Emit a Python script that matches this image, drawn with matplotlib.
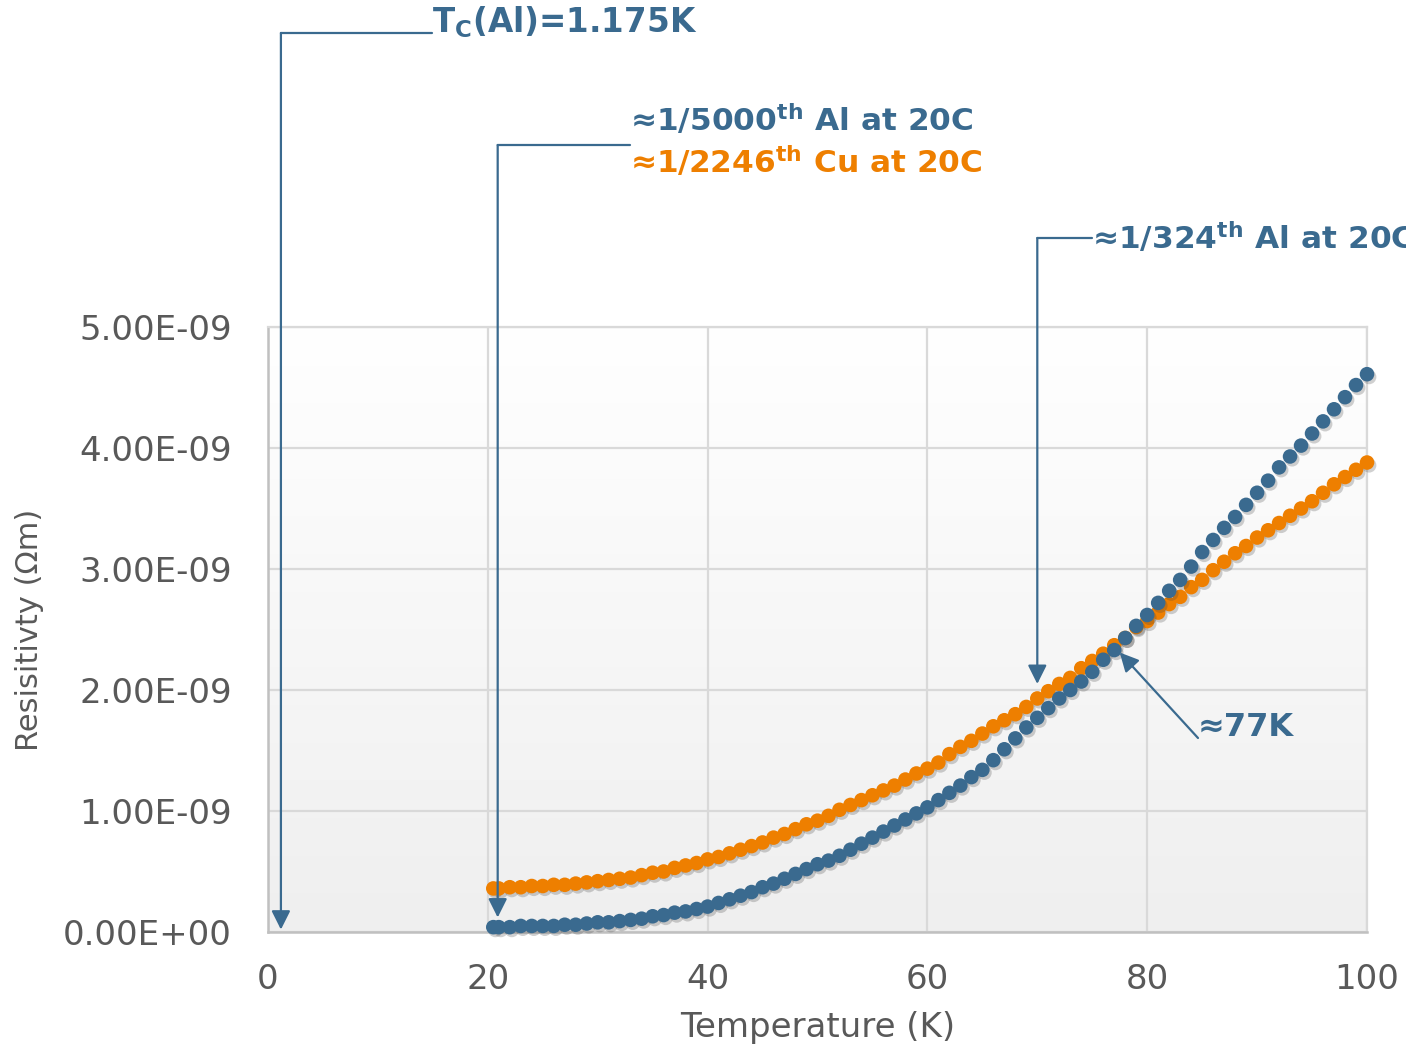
import numpy as np
import matplotlib
matplotlib.use("Agg")
import matplotlib.pyplot as plt
import matplotlib.patheffects as pe
from matplotlib.ticker import FuncFormatter

# Temperature (K) and resistivity (x1e-9 Ohm m)
temp = [20.5] + list(range(21, 101))
rho_al = [0.04,
          0.04, 0.04, 0.05, 0.05, 0.05, 0.05, 0.06, 0.06, 0.07, 0.08,
          0.08, 0.09, 0.10, 0.11, 0.13, 0.14, 0.16, 0.17, 0.19, 0.21,
          0.24, 0.27, 0.30, 0.33, 0.37, 0.40, 0.44, 0.48, 0.52, 0.56,
          0.59, 0.63, 0.68, 0.73, 0.78, 0.83, 0.88, 0.93, 0.98, 1.03,
          1.09, 1.15, 1.21, 1.28, 1.34, 1.42, 1.51, 1.60, 1.69, 1.77,
          1.85, 1.93, 2.00, 2.07, 2.15, 2.25, 2.33, 2.43, 2.53, 2.62,
          2.72, 2.82, 2.91, 3.02, 3.14, 3.24, 3.34, 3.43, 3.53, 3.63,
          3.73, 3.84, 3.93, 4.02, 4.12, 4.22, 4.32, 4.42, 4.52, 4.61]
rho_cu = [0.36,
          0.36, 0.37, 0.37, 0.38, 0.38, 0.39, 0.39, 0.40, 0.41, 0.42,
          0.43, 0.44, 0.45, 0.47, 0.49, 0.50, 0.53, 0.55, 0.57, 0.60,
          0.62, 0.65, 0.68, 0.71, 0.74, 0.78, 0.81, 0.85, 0.89, 0.92,
          0.96, 1.01, 1.05, 1.09, 1.13, 1.17, 1.21, 1.26, 1.31, 1.35,
          1.40, 1.47, 1.53, 1.58, 1.64, 1.70, 1.75, 1.80, 1.86, 1.93,
          1.99, 2.05, 2.10, 2.18, 2.24, 2.30, 2.37, 2.43, 2.52, 2.57,
          2.64, 2.71, 2.77, 2.85, 2.91, 2.99, 3.06, 3.13, 3.19, 3.26,
          3.32, 3.38, 3.44, 3.50, 3.56, 3.63, 3.70, 3.76, 3.82, 3.88]

x_ticks = [0, 20, 40, 60, 80, 100]
y_ticks = [0, 1e-9, 2e-9, 3e-9, 4e-9, 5e-9]

BLUE = "#3a6a8f"
ORANGE = "#ee7f00"
GREY_TXT = "#595959"
GRID = "#d9d9d9"

fig = plt.figure(figsize=(14.06, 10.46), dpi=100)
ax = fig.add_axes([268 / 1406, 1 - 932 / 1046, (1367 - 268) / 1406, (932 - 327) / 1046])

# white-to-grey vertical gradient behind the plot
grad = np.linspace(0, 1, 256).reshape(-1, 1)
ax.imshow(grad, extent=[0, 100, 0, 5e-9], aspect="auto", origin="upper",
          cmap=matplotlib.colors.LinearSegmentedColormap.from_list("bg", ["#ffffff", "#efefef"]),
          zorder=0)

ax.set_xlim(0, 100)
ax.set_ylim(0, 5e-9)
ax.set_xticks(x_ticks)
ax.set_yticks(y_ticks)
ax.yaxis.set_major_formatter(FuncFormatter(lambda v, p: f"{v:.2E}"))
ax.grid(True, color=GRID, lw=1.6, zorder=1)
ax.set_axisbelow(True)
for side in ["top", "right"]:
    ax.spines[side].set_color(GRID)
    ax.spines[side].set_linewidth(1.6)
for side in ["left", "bottom"]:
    ax.spines[side].set_color("#c0c0c0")
    ax.spines[side].set_linewidth(1.8)
ax.tick_params(length=0, labelsize=24.5, labelcolor=GREY_TXT)
ax.tick_params(axis="y", pad=26)
ax.tick_params(axis="x", pad=22)

shadow = [pe.SimplePatchShadow(offset=(1.5, -2.0), shadow_rgbFace="#444444", alpha=0.25),
          pe.Normal()]
t_arr = np.array(temp)
ax.plot(t_arr, np.array(rho_cu) * 1e-9, "o", ms=10.5, color=ORANGE, mec="none",
        clip_on=False, zorder=3, path_effects=shadow)
ax.plot(t_arr, np.array(rho_al) * 1e-9, "o", ms=10.5, color=BLUE, mec="none",
        clip_on=False, zorder=4, path_effects=shadow)

fig.text(817.5 / 1406, 1 - 1027 / 1046, "Temperature (K)", ha="center", va="center",
         fontsize=24.5, color=GREY_TXT)
fig.text(30 / 1406, 1 - 630 / 1046, "Resisitivty (\u03a9m)", ha="center", va="center",
         rotation=90, fontsize=22, color=GREY_TXT)

# annotation brackets
arrow_kw = dict(arrowstyle="-|>,head_length=0.6,head_width=0.3", color=BLUE, lw=1.6,
                shrinkA=0, shrinkB=0, mutation_scale=19)
txt_kw = dict(fontsize=22.5, fontweight="bold", ha="left", va="center")


def bracket(tip_x, tip_y, corner_yfrac, text_xfrac):
    ax.annotate("", xy=(tip_x, tip_y), xycoords="data",
                xytext=(tip_x, corner_yfrac), textcoords=("data", "figure fraction"),
                arrowprops=arrow_kw, annotation_clip=False, zorder=6)
    ax.annotate("", xy=(tip_x, corner_yfrac), xycoords=("data", "figure fraction"),
                xytext=(text_xfrac, corner_yfrac), textcoords="figure fraction",
                arrowprops=dict(arrowstyle="-", color=BLUE, lw=1.6, shrinkA=0, shrinkB=0),
                annotation_clip=False, zorder=6)


bracket(1.175, 0.02e-9, 1 - 33 / 1046, 432 / 1406)
fig.text(432 / 1406, 1 - 22 / 1046, r"T$_{\mathbf{C}}$(Al)=1.175K", color=BLUE,
         **{**txt_kw, "fontsize": 23.5})

bracket(20.9, 0.12e-9, 1 - 145 / 1046, 630 / 1406)
fig.text(630 / 1406, 1 - 119 / 1046, "\u22481/5000$^{\\mathbf{th}}$ Al at 20C",
         color=BLUE, **txt_kw)
fig.text(630 / 1406, 1 - 161 / 1046, "\u22481/2246$^{\\mathbf{th}}$ Cu at 20C",
         color=ORANGE, **txt_kw)

bracket(70.0, 2.05e-9, 1 - 238 / 1046, 1092 / 1406)
fig.text(1092 / 1406, 1 - 237 / 1046, "\u22481/324$^{\\mathbf{th}}$ Al at 20C",
         color=BLUE, **txt_kw)

ax.annotate("", xy=(77.5, 2.31e-9), xycoords="data",
            xytext=(1198, 1046 - 738), textcoords="figure pixels",
            arrowprops=arrow_kw, annotation_clip=False, zorder=6)
fig.text(1198 / 1406, 1 - 728 / 1046, "\u224877K", color=BLUE, **{**txt_kw, "fontsize": 23})

fig.savefig("out.png", dpi=100)
